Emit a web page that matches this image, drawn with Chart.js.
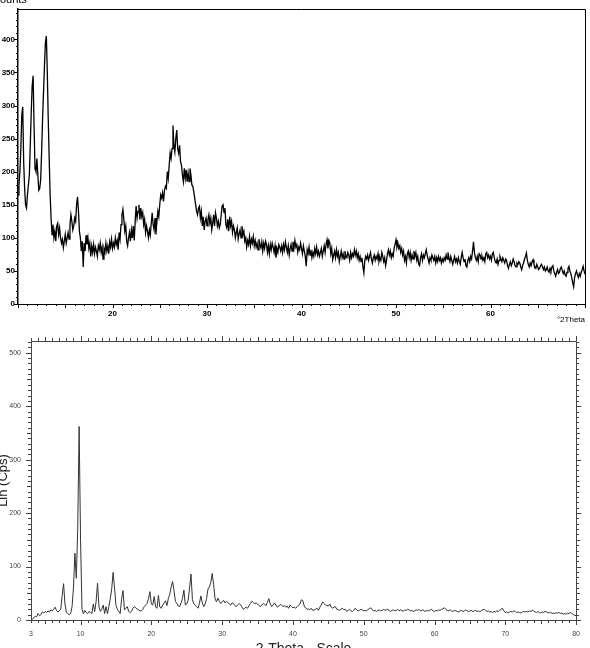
<!DOCTYPE html>
<html><head><meta charset="utf-8">
<script src="https://cdn.jsdelivr.net/npm/chart.js@4.4.1/dist/chart.umd.min.js"></script>
<style>
html,body{margin:0;padding:0;background:#fff;overflow:hidden;}
#wrap{position:relative;width:590px;height:648px;overflow:hidden;background:#fff;}
#c1{position:absolute;left:0;top:0;}
#c2{position:absolute;left:0;top:325px;}
#counts{position:absolute;left:-8px;top:-6px;font:11px 'Liberation Sans',Arial,sans-serif;line-height:11px;color:#000;}
</style></head><body>
<div id="wrap">
<canvas id="c1" width="590" height="325"></canvas>
<canvas id="c2" width="590" height="323"></canvas>
<div id="counts">Counts</div>
</div>
<script>
// ---- top pattern: counts sampled every 0.1 °2Theta from 10.0 to 70.0
const topStart = 10, topStep = 0.1;
const topCounts = [
165,180,200,235,285,298,215,175,150,145,
165,180,195,240,290,330,345,270,205,200,
220,195,172,175,188,230,280,320,360,395,
405,350,280,220,165,130,105,120,100,110,
95,118,122,105,115,100,92,98,85,95,
105,92,100,108,98,120,135,125,112,118,
130,125,150,162,140,110,100,80,95,56,
92,80,104,90,100,84,92,72,88,78,
90,76,86,80,72,88,82,92,78,86,
68,84,78,92,80,88,76,94,86,98,
84,92,86,100,90,96,82,108,98,120,
135,143,128,110,118,95,88,100,108,95,
112,100,118,96,125,148,130,140,150,128,
145,132,138,120,128,108,118,110,100,112,
104,122,138,120,112,130,105,125,140,132,
150,165,160,168,155,172,178,175,200,190,
210,228,220,235,270,240,230,250,263,235,
228,240,215,210,195,185,205,190,203,185,
198,185,205,195,180,178,170,160,150,140,
135,145,148,130,140,118,132,112,125,130,
118,128,135,122,130,112,122,135,118,138,
130,118,125,115,120,135,148,150,138,145,
120,115,128,110,132,118,125,108,118,112,
100,108,115,98,106,112,100,118,105,110,
95,100,86,96,90,102,88,98,92,102,
88,96,86,92,82,98,90,85,94,80,
92,84,95,90,78,88,76,90,82,92,
86,78,88,70,84,78,90,86,80,88,
78,90,82,94,86,78,88,74,84,90,
80,94,84,96,86,90,78,86,82,92,
84,76,88,80,72,57,82,76,86,74,
82,70,78,72,84,76,86,74,80,72,
78,84,72,80,88,78,90,97,84,96,
92,76,84,67,74,80,70,82,72,78,
64,72,80,70,76,68,80,72,70,78,
74,66,78,70,76,72,82,74,80,70,
76,66,72,64,70,56,47,66,72,68,
74,66,72,78,68,62,70,74,66,72,
68,76,64,70,66,78,72,64,70,58,
66,76,82,74,80,70,76,72,84,90,
97,86,92,84,88,78,84,74,80,66,
72,62,76,80,70,78,66,74,68,80,
72,78,66,72,60,58,70,76,66,74,
70,76,82,74,68,62,70,66,74,70,
66,72,62,70,64,72,66,70,62,68,
64,70,66,74,68,78,70,64,72,66,
60,66,72,64,68,62,70,64,60,70,
78,70,64,68,58,56,66,70,64,72,
68,80,94,78,70,66,72,64,76,74,
68,72,66,70,64,76,78,70,74,68,
72,66,76,78,70,64,62,68,60,66,
72,68,64,70,66,62,68,66,58,54,
60,64,58,62,68,64,58,56,62,60,
64,62,56,52,58,62,68,72,77,66,
60,56,62,58,64,67,60,56,54,60,
56,52,54,58,60,56,52,56,50,52,
56,50,48,54,50,56,58,50,46,42,
48,52,46,48,54,56,50,46,50,44,
42,48,54,57,50,46,40,32,26,40,
46,50,44,40,46,42,48,52,57,50,
45
];
const topXTicks = [20, 30, 40, 50, 60];
const topYTicks = [0, 50, 100, 150, 200, 250, 300, 350, 400];

// ---- bottom pattern: Lin (Cps) sampled every 0.2 ° from 3.0 to 80.0
const botStart = 3, botStep = 0.2;
const botLin = [
0,2,4,7,6,12,8,10,15,13,
16,14,17,15,19,17,20,24,18,15,
17,20,45,68,30,14,12,10,12,25,
60,125,78,170,362,150,20,12,18,14,
12,16,14,12,30,16,35,69,25,16,
20,28,12,25,12,25,40,58,89,60,
28,20,16,12,40,55,19,22,25,16,
14,16,22,25,23,20,19,17,17,20,
25,28,31,40,53,30,28,44,24,22,
46,24,22,28,32,36,27,40,48,62,
72,55,35,31,26,25,32,40,56,28,
30,37,60,86,38,30,28,25,22,32,
45,32,25,30,40,58,62,70,87,66,
40,34,41,35,31,34,37,32,35,33,
30,28,32,31,27,25,28,31,29,24,
20,22,24,22,27,31,35,33,30,32,
30,27,25,28,31,29,27,33,40,30,
25,28,32,28,24,26,29,28,25,27,
24,26,22,28,25,23,24,22,25,28,
30,38,36,26,22,20,21,19,22,18,
19,20,22,18,24,28,34,31,28,27,
26,30,24,22,24,25,20,19,18,21,
22,19,20,16,18,20,17,16,18,22,
19,17,18,20,19,17,18,17,20,21,
23,19,17,18,16,18,19,17,18,20,
18,19,20,18,16,18,19,17,18,20,
17,19,18,16,19,18,20,19,17,18,
16,17,19,18,20,17,18,19,16,17,
18,17,19,20,17,16,18,17,19,18,
20,21,23,20,18,17,19,17,16,18,
17,16,15,17,18,16,17,19,17,16,
17,18,16,17,18,16,17,15,18,19,
20,18,16,17,15,16,14,16,15,17,
16,18,20,22,17,14,15,13,15,16,
15,17,16,14,15,14,13,15,16,15,
16,15,17,16,18,17,15,14,16,14,
13,15,14,16,15,14,13,15,12,13,
12,14,13,14,12,13,11,12,11,13,
12,14,12,10,9,8
];
const botXTicks = [3, 10, 20, 30, 40, 50, 60, 70, 80];
const botYTicks = [0, 100, 200, 300, 400, 500];

function toPoints(vals, start, step) {
  return vals.map((v, i) => ({ x: Math.round((start + i * step) * 100) / 100, y: v }));
}

// draws frame and the minor / major tick marks through the chart scales
function tickMarks(o) {
  return {
    id: 'tickMarks',
    afterDraw(chart) {
      const { ctx, chartArea: a, scales: { x, y } } = chart;
      ctx.save();
      ctx.strokeStyle = o.color;
      ctx.lineWidth = 1;
      ctx.beginPath();
      ctx.moveTo(a.left, Math.round(a.top) + 0.5);
      ctx.lineTo(Math.round(a.right) + 0.5, Math.round(a.top) + 0.5);
      ctx.lineTo(Math.round(a.right) + 0.5, a.bottom);
      for (let v = Math.ceil(x.min); v <= x.max; v++) {
        const px = Math.round(x.getPixelForValue(v)) + 0.5;
        const L = v % o.xMajor === 0 ? o.lenMajor : (v % o.xMid === 0 ? o.lenMid : o.lenMinor);
        ctx.moveTo(px, a.bottom); ctx.lineTo(px, a.bottom + L);
        if (o.topTicks) { ctx.moveTo(px, a.top); ctx.lineTo(px, a.top - L); }
      }
      for (let v = 0; v <= y.max; v += o.yMinor) {
        const py = Math.round(y.getPixelForValue(v)) + 0.5;
        const L = v % o.yMajor === 0 ? o.lenMajor : (v % o.yMid === 0 ? o.lenMid : o.lenMinor);
        ctx.moveTo(a.left, py); ctx.lineTo(a.left - L, py);
        if (o.rightTicks) { ctx.moveTo(a.right, py); ctx.lineTo(a.right + L, py); }
      }
      ctx.stroke();
      ctx.restore();
    }
  };
}

const FAM = "'Liberation Sans', Arial, sans-serif";

new Chart(document.getElementById('c1'), {
  type: 'line',
  data: { datasets: [{ data: toPoints(topCounts, topStart, topStep), borderColor: '#000', borderWidth: 1.3, pointRadius: 0, tension: 0, fill: false }] },
  options: {
    responsive: false, animation: false, devicePixelRatio: 1, events: [],
    layout: { padding: { left: 0, top: 9, right: 5, bottom: 0 } },
    plugins: { legend: { display: false }, tooltip: { enabled: false } },
    scales: {
      x: {
        type: 'linear', min: 10, max: 70,
        afterFit: s => { s.height = 21; },
        afterBuildTicks: s => { s.ticks = topXTicks.map(v => ({ value: v })); },
        grid: { display: false, drawTicks: false },
        border: { display: true, color: '#000', width: 1 },
        ticks: { autoSkip: false, maxRotation: 0, padding: 5, color: '#000', font: { size: 8, weight: 'bold', family: FAM } },
        title: { display: true, text: '°2Theta', align: 'end', color: '#000', font: { size: 8, family: FAM }, padding: { top: 0, bottom: 0 } }
      },
      y: {
        type: 'linear', min: 0, max: 446,
        afterFit: s => { s.width = 18; },
        afterBuildTicks: s => { s.ticks = topYTicks.map(v => ({ value: v })); },
        grid: { display: false, drawTicks: false },
        border: { display: true, color: '#000', width: 1.5 },
        ticks: { autoSkip: false, padding: 3, color: '#000', font: { size: 8, weight: 'bold', family: FAM } }
      }
    }
  },
  plugins: [tickMarks({ color: '#000', xMajor: 10, xMid: 5, yMinor: 10, yMajor: 50, yMid: 50, lenMajor: 4, lenMid: 4, lenMinor: 2, topTicks: false, rightTicks: false })]
});

new Chart(document.getElementById('c2'), {
  type: 'line',
  data: { datasets: [{ data: toPoints(botLin, botStart, botStep), borderColor: '#333', borderWidth: 1, pointRadius: 0, tension: 0, fill: false }] },
  options: {
    responsive: false, animation: false, devicePixelRatio: 1, events: [],
    layout: { padding: { left: 0, top: 16, right: 7, bottom: 0 } },
    plugins: { legend: { display: false }, tooltip: { enabled: false } },
    scales: {
      x: {
        type: 'linear', min: 3, max: 80,
        afterFit: s => { s.height = 28; },
        afterBuildTicks: s => { s.ticks = botXTicks.map(v => ({ value: v })); },
        grid: { display: false, drawTicks: false },
        border: { display: true, color: '#444', width: 1 },
        ticks: { autoSkip: false, maxRotation: 0, padding: 10, color: '#444', font: { size: 7, family: FAM } },
        title: { display: true, text: '2-Theta - Scale', color: '#222', font: { size: 14, family: FAM }, padding: { top: 0, bottom: -10 } }
      },
      y: {
        type: 'linear', min: 0, max: 522,
        afterFit: s => { s.width = 31; },
        afterBuildTicks: s => { s.ticks = botYTicks.map(v => ({ value: v })); },
        grid: { display: false, drawTicks: false },
        border: { display: true, color: '#444', width: 1 },
        ticks: { autoSkip: false, padding: 10, color: '#444', font: { size: 7, family: FAM } },
        title: { display: true, text: 'Lin (Cps)', color: '#222', font: { size: 13, family: FAM }, padding: { top: -4, bottom: 0 } }
      }
    }
  },
  plugins: [tickMarks({ color: '#444', xMajor: 10, xMid: 5, yMinor: 10, yMajor: 100, yMid: 50, lenMajor: 5, lenMid: 4, lenMinor: 3, topTicks: true, rightTicks: true })]
});
</script>
</body></html>
